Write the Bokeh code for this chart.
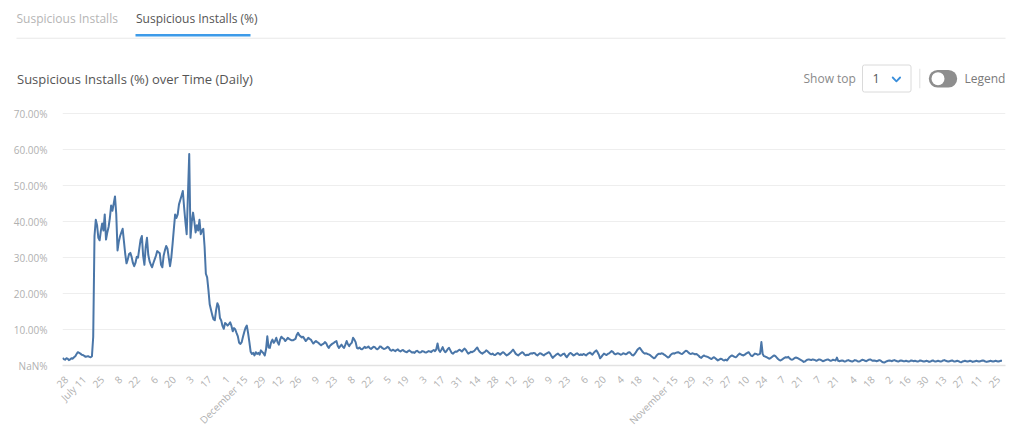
import math
import pandas as pd
from bokeh.plotting import figure
from bokeh.layouts import column
from bokeh.models import Range1d, FixedTicker
from bokeh.core.properties import value
from bokeh.embed import file_html
from bokeh.resources import INLINE

# ---------------- data ----------------
start_date = "2019-07-25"
# daily suspicious-install share (%), one row = two weeks
pct_values = [
    2.1, 1.8, 1.6, 2.0, 1.9, 1.5, 1.7, 2.0, 1.9, 2.3, 2.6, 3.2, 3.7, 3.5,
    3.3, 3.0, 2.9, 2.7, 2.4, 2.5, 2.6, 2.4, 2.3, 2.6, 8.0, 36.0, 40.5, 39.0,
    35.5, 34.8, 37.5, 39.5, 37.5, 42.0, 35.0, 37.0, 38.5, 41.0, 44.5, 43.0, 45.0, 47.0,
    42.0, 32.0, 34.5, 36.0, 37.0, 38.0, 34.5, 31.0, 28.4, 29.5, 31.0, 31.3, 30.2, 28.5,
    27.6, 28.5, 30.2, 30.0, 32.5, 35.0, 36.0, 30.5, 28.0, 33.0, 35.5, 30.8, 29.0, 28.0,
    27.3, 28.5, 29.5, 30.5, 31.8, 31.5, 31.2, 28.0, 27.3, 30.5, 32.0, 33.2, 32.5, 30.0,
    27.6, 30.0, 33.8, 38.0, 42.0, 41.0, 42.0, 44.8, 46.0, 47.2, 48.5, 44.0, 40.0, 36.5,
    47.5, 58.8, 35.5, 40.0, 42.5, 40.0, 37.0, 39.0, 37.5, 40.5, 36.5, 37.5, 38.0, 33.0,
    25.5, 24.5, 21.0, 17.0, 15.5, 14.0, 12.8, 12.6, 15.4, 17.3, 16.5, 13.2, 12.5, 11.0,
    10.2, 11.8, 11.5, 11.1, 11.5, 12.0, 11.0, 9.5, 10.4, 10.0, 9.0, 8.1, 6.3, 6.0,
    6.5, 8.0, 9.3, 10.5, 11.1, 9.0, 6.5, 3.8, 3.2, 3.5, 2.8, 3.7, 3.2, 3.5,
    3.0, 4.2, 3.8, 3.4, 2.8, 4.5, 8.1, 5.0, 4.9, 6.5, 7.2, 6.3, 6.8, 7.7,
    6.5, 5.8, 7.2, 8.0, 7.6, 7.4, 6.8, 7.2, 7.7, 7.4, 7.2, 7.0, 7.0, 7.2,
    7.4, 8.5, 9.1, 8.4, 8.1, 7.8, 8.0, 7.4, 6.8, 7.2, 7.7, 7.4, 7.2, 6.6,
    6.1, 6.5, 6.8, 6.5, 6.3, 5.9, 5.6, 5.9, 6.1, 6.5, 6.2, 5.4, 4.9, 5.5,
    5.8, 6.1, 6.3, 6.6, 6.8, 5.5, 4.9, 5.4, 5.8, 5.2, 4.9, 5.8, 6.8, 5.9,
    5.4, 6.0, 6.3, 7.7, 7.2, 6.5, 4.9, 4.7, 5.0, 4.6, 4.5, 4.8, 5.2, 4.9,
    5.0, 5.3, 4.8, 4.6, 4.9, 5.2, 5.1, 4.7, 4.5, 4.8, 5.3, 5.2, 4.8, 4.6,
    4.7, 4.9, 5.2, 4.9, 4.3, 4.1, 4.4, 4.2, 4.0, 4.3, 4.5, 4.1, 3.9, 4.2,
    4.3, 4.0, 3.8, 3.7, 4.0, 4.2, 3.9, 3.6, 3.7, 3.5, 3.9, 4.1, 3.8, 3.6,
    3.7, 4.0, 3.9, 3.7, 3.6, 3.8, 4.0, 3.9, 3.7, 4.1, 4.3, 4.0, 4.5, 6.1,
    4.3, 3.8, 4.4, 5.1, 4.2, 3.7, 4.0, 4.6, 4.9, 4.2, 3.5, 3.3, 3.6, 3.9,
    3.8, 4.1, 4.4, 4.2, 3.9, 4.3, 4.7, 4.4, 3.8, 3.3, 3.5, 3.8, 3.7, 3.9,
    4.2, 4.6, 5.0, 4.3, 3.8, 3.5, 3.3, 3.6, 3.8, 4.2, 4.0, 3.6, 3.3, 3.1,
    3.3, 3.0, 2.9, 3.2, 3.5, 3.3, 3.0, 3.4, 3.7, 3.5, 3.1, 2.8, 3.0, 3.3,
    3.6, 4.0, 4.4, 3.9, 3.3, 3.0, 2.8, 3.1, 3.4, 3.7, 3.5, 3.0, 2.8, 3.0,
    2.9, 3.2, 3.4, 3.3, 3.5, 3.4, 3.0, 2.8, 3.1, 3.4, 3.3, 3.0, 2.8, 3.1,
    3.3, 3.5, 3.7, 3.3, 2.6, 2.1, 2.5, 2.8, 3.1, 3.3, 3.0, 2.7, 2.9, 3.2,
    3.3, 2.7, 2.3, 2.8, 3.3, 3.5, 3.2, 2.8, 2.9, 3.2, 3.4, 3.1, 2.9, 3.1,
    2.9, 3.2, 3.0, 2.8, 3.1, 3.4, 3.6, 3.3, 3.0, 3.5, 3.9, 4.2, 3.7, 3.0,
    2.0, 2.4, 2.9, 3.3, 3.1, 2.9, 3.2, 3.4, 3.7, 4.0, 3.8, 3.3, 3.1, 3.3,
    3.4, 3.2, 3.0, 3.1, 3.4, 3.3, 3.1, 3.3, 3.6, 3.7, 3.3, 2.9, 2.8, 3.2,
    3.7, 4.3, 4.7, 4.9, 4.4, 3.9, 3.5, 3.3, 3.4, 3.2, 3.1, 2.9, 2.6, 2.3,
    2.0, 2.2, 2.7, 3.1, 3.3, 3.2, 3.4, 3.3, 3.0, 2.8, 2.5, 2.2, 2.4, 2.9,
    3.2, 3.4, 3.3, 3.5, 3.6, 3.7, 3.5, 3.3, 3.2, 3.5, 3.8, 4.1, 4.0, 3.6,
    3.3, 3.2, 3.4, 3.3, 3.1, 3.2, 3.0, 2.7, 2.3, 2.1, 2.5, 2.8, 2.6, 2.5,
    2.4, 2.2, 2.0, 1.8, 2.1, 2.3, 2.0, 1.7, 1.4, 1.6, 1.9, 1.8, 1.5, 1.4,
    1.6, 1.4, 1.8, 2.3, 2.6, 2.8, 2.6, 2.4, 2.3, 2.6, 3.0, 3.3, 3.1, 2.9,
    2.8, 3.0, 3.3, 3.5, 3.7, 3.2, 2.7, 2.6, 3.0, 3.3, 3.2, 3.0, 3.1, 3.3,
    6.5, 3.2, 2.6, 2.5, 2.3, 2.1, 1.9, 2.0, 2.3, 2.6, 2.8, 2.6, 2.2, 1.8,
    1.5, 1.4, 1.6, 1.9, 2.1, 2.3, 2.2, 2.4, 2.0, 1.7, 1.6, 1.8, 2.1, 2.2,
    2.1, 1.9, 1.7, 1.5, 1.3, 1.0, 1.1, 1.4, 1.6, 1.7, 1.6, 1.5, 1.7, 1.6,
    1.5, 1.3, 1.5, 1.7, 1.6, 1.4, 1.2, 1.3, 1.5, 1.6, 1.7, 1.5, 1.3, 1.4,
    1.6, 1.5, 1.4, 2.2, 1.3, 1.2, 1.3, 1.4, 1.3, 1.1, 1.2, 1.4, 1.5, 1.3,
    1.2, 1.1, 1.3, 1.5, 1.4, 1.2, 1.1, 1.2, 1.4, 1.6, 1.5, 1.3, 1.2, 1.4,
    1.6, 1.7, 1.5, 1.3, 1.4, 1.3, 1.2, 1.3, 1.5, 1.4, 1.1, 0.9, 0.8, 1.0,
    1.2, 1.3, 1.4, 1.3, 1.2, 1.4, 1.5, 1.3, 1.2, 1.1, 1.3, 1.4, 1.3, 1.2,
    1.2, 1.3, 1.2, 1.1, 1.2, 1.4, 1.3, 1.2, 1.3, 1.2, 1.1, 1.2, 1.4, 1.3,
    1.2, 1.1, 1.2, 1.3, 1.2, 1.0, 1.1, 1.3, 1.4, 1.2, 1.1, 1.2, 1.3, 1.2,
    1.1, 1.2, 1.4, 1.5, 1.3, 1.2, 1.1, 1.2, 1.3, 1.4, 1.2, 1.1, 1.2, 1.3,
    1.2, 1.0, 0.9, 1.1, 1.2, 1.3, 1.2, 1.1, 1.2, 1.3, 1.2, 1.0, 1.1, 1.2,
    1.3, 1.2, 1.1, 1.2, 1.3, 1.4, 1.3, 1.1, 1.0, 1.1, 1.2, 1.3, 1.2, 1.1,
    1.2, 1.3, 1.2, 1.1, 1.2, 1.3, 1.3,
]

first_tick_date = "2019-07-28"
x_tick_labels = [
    "28", "July 11", "25", "8", "22", "6", "20", "3", "17", "1",
    "December 15", "29", "12", "26", "9", "23", "8", "22", "5", "19",
    "3", "17", "31", "14", "28", "12", "26", "9", "23", "6",
    "20", "4", "18", "1", "November 15", "29", "13", "27", "10", "24",
    "7", "21", "7", "21", "4", "18", "2", "16", "30", "13",
    "27", "11", "25",
]
y_ticks = [0, 10, 20, 30, 40, 50, 60, 70]
y_tick_labels = ["NaN%", "10.00%", "20.00%", "30.00%", "40.00%", "50.00%", "60.00%", "70.00%"]

tab_labels = ["Suspicious Installs", "Suspicious Installs (%)"]
chart_title = "Suspicious Installs (%) over Time (Daily)"
show_top_label = "Show top"
show_top_value = "1"
legend_label = "Legend"

# ---------------- layout (page pixels) ----------------
W = 1008
HEADER_H = 98
CHART_H = 424 - HEADER_H
FL, FR, FT, FB = 62, 1005, 106, 365
FONT = "Open Sans"
LINE_BLUE = "#4a76a8"

# ---------------- header (tabs, title, controls) ----------------
hdr = figure(frame_width=W, frame_height=HEADER_H,
             x_range=Range1d(0, W), y_range=Range1d(HEADER_H, 0),
             x_axis_location=None, y_axis_location=None, min_border=0,
             output_backend="svg", toolbar_location=None)
hdr.grid.visible = False
hdr.outline_line_color = None
hdr.background_fill_color = "white"
hdr.border_fill_color = "white"


def htext(x, y, text, size, color):
    hdr.text(x=[x], y=[y], text=[text], text_font=value(FONT), text_font_size=value(size),
             text_color=color, text_baseline="middle", text_align="left")


htext(16, 18, tab_labels[0], "12px", "#b5b5b5")
htext(135.5, 18, tab_labels[1], "12px", "#555555")
hdr.quad(left=[16], right=[1005], top=[37.2], bottom=[38.2], fill_color="#e8e8e8", line_color=None)
hdr.quad(left=[135], right=[250], top=[33.5], bottom=[36], fill_color="#3d9be9", line_color=None)
htext(16.5, 78, chart_title, "13px", "#555555")

htext(803, 78, show_top_label, "12px", "#8a8a8a")
hdr.quad(left=[862], right=[910.5], top=[64.5], bottom=[91.5], fill_color="white",
         line_color="#dadada", line_width=1, border_radius=2)
htext(872, 78, show_top_value, "12.5px", "#555555")
hdr.line(x=[892.2, 895.9, 899.6], y=[77.0, 80.8, 77.0], line_color="#3b8fdb", line_width=1.8,
         line_join="round", line_cap="round")
hdr.quad(left=[918.8], right=[919.8], top=[68.3], bottom=[87.7], fill_color="#e2e2e2", line_color=None)
hdr.quad(left=[928.3], right=[956.7], top=[69.5], bottom=[87.0], fill_color="#8e8e8e",
         line_color=None, border_radius=9)
hdr.scatter(x=[937.5], y=[78.2], size=13, marker="circle", fill_color="white", line_color=None)
htext(964, 78, legend_label, "12px", "#7a7a7a")

# ---------------- chart ----------------
dates = pd.date_range(start_date, periods=len(pct_values), freq="D")
tick_dates = pd.date_range(first_tick_date, periods=len(x_tick_labels), freq="14D")
ticks_ms = [float(t.value // 10**6) for t in tick_dates]
x0 = float(dates[0].value // 10**6)
day_ms = 86400000.0

p = figure(
    frame_width=FR - FL, frame_height=FB - FT,
    min_border_left=FL, min_border_right=W - FR,
    min_border_top=FT - HEADER_H, min_border_bottom=CHART_H - (FB - HEADER_H),
    x_axis_type="datetime",
    x_range=Range1d(x0, x0 + 736.7 * day_ms),
    y_range=Range1d(0, 72),
    output_backend="svg", toolbar_location=None,
)
p.outline_line_color = None
p.background_fill_color = "white"
p.border_fill_color = "white"

p.line(dates, pct_values, line_color=LINE_BLUE, line_width=2, line_join="round")

p.xaxis.ticker = FixedTicker(ticks=ticks_ms)
p.xaxis.major_label_overrides = {t: lab for t, lab in zip(ticks_ms, x_tick_labels)}
p.xaxis.major_label_orientation = math.pi / 4
p.xaxis.axis_line_color = "#e2e2e2"
p.xaxis.axis_line_width = 1.5
p.xaxis.major_tick_line_color = None
p.xaxis.minor_tick_line_color = None
p.xaxis.major_label_standoff = 6
p.yaxis.ticker = FixedTicker(ticks=y_ticks)
p.yaxis.major_label_overrides = {t: lab for t, lab in zip(y_ticks, y_tick_labels)}
p.yaxis.axis_line_color = None
p.yaxis.major_tick_line_color = None
p.yaxis.minor_tick_line_color = None
p.yaxis.major_label_standoff = 9
for ax in (p.xaxis[0], p.yaxis[0]):
    ax.major_label_text_font = FONT
    ax.major_label_text_font_size = "10px"
    ax.major_label_text_color = "#b0b0b0"
p.xgrid.visible = False
p.ygrid.grid_line_color = "#eeeeee"

# keep each figure's own frame (no cross-figure frame alignment)
for fig in (hdr, p):
    try:
        fig.frame_align = False
    except AttributeError:
        pass

layout = column(hdr, p, spacing=0)
open("out.html", "w").write(file_html(layout, INLINE))
